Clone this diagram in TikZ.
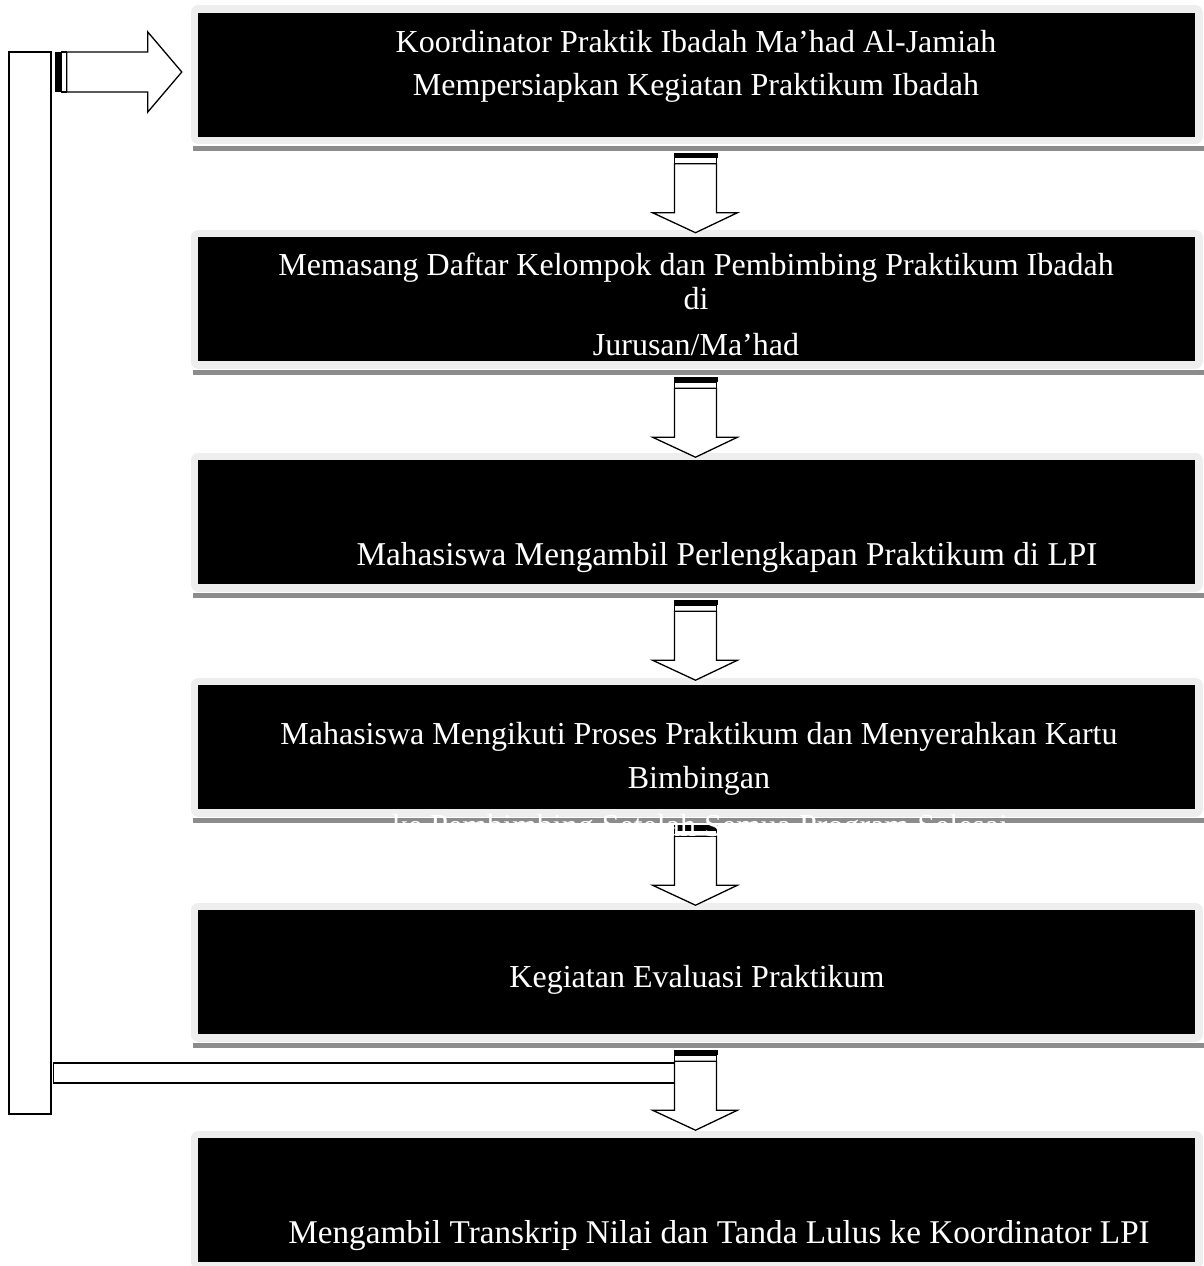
\documentclass[tikz,border=0pt]{standalone}
\usepackage{fontspec}
\setmainfont{Liberation Serif}
\usetikzlibrary{calc}

\definecolor{framegray}{HTML}{EEEEEE}
\definecolor{shadegray}{HTML}{8C8C8C}

\tikzset{
  stepbox/.style={fill=black, minimum width=997pt, minimum height=124pt, inner sep=0pt,
    preaction={draw=framegray, line width=15pt, line join=round}},
  steptext/.style={text=white, align=center, inner sep=0pt, font=\fontsize{32}{43}\selectfont},
  hollow/.style={draw=black, fill=white, line width=1.3pt},
  downarr/.pic={
    \fill[black] (-22,0) rectangle (22,5);
    \draw[hollow] (-21,5) rectangle (21,11);
    \draw[hollow] (-21,11) -- (-21,60) -- (-43,60) -- (0,80) -- (42,60) -- (21,60) -- (21,11) -- cycle;
  },
  rightarr/.pic={
    \fill[black] (-127,-20) rectangle (-121,20);
    \draw[hollow] (-120,-20) rectangle (-115,20);
    \draw[hollow] (-115,-20) -- (-34,-20) -- (-34,-40) -- (0,0) -- (-34,40) -- (-34,20) -- (-115,20) -- cycle;
  }
}

\begin{document}
\begin{tikzpicture}[x=1pt, y=-1pt]
        \useasboundingbox (0,0) rectangle (1204,1266);
        % boxes
        \node[stepbox] (b1) at (696.5,74.5) {};
        \node[stepbox] (b2) at (696.5,299) {};
        \node[stepbox] (b3) at (696.5,522) {};
        \node[stepbox] (b4) at (696.5,747) {};
        \node[stepbox] (b5) at (696.5,972) {};
        \node[stepbox] (b6) at (696.5,1200) {};
        \foreach \b in {b1,b2,b3,b4,b5,b6}
          \fill[shadegray] ($(\b.south west)+(-5,9)$) rectangle ($(\b.south east)+(9,14)$);
        % loop back
        \node[hollow, minimum width=42pt, minimum height=1062pt, inner sep=0pt] (lbar) at (30,583) {};
        \draw[hollow] ($(lbar.east |- 0,1063)+(2,0)$) rectangle (676,1083);
        \pic at ($(b1.west)+(-16,-2.5)$) {rightarr};
        % arrows
        \foreach \a in {b1,b2,b3,b4,b5}
          \pic at ($(\a.south)+(-1,16)$) {downarr};
        % texts
        \node[steptext] (t1) at (696,66.5) {Koordinator Praktik Ibadah Ma’had Al-Jamiah\\Mempersiapkan Kegiatan Praktikum Ibadah};
        \node[steptext, font=\fontsize{32}{34}\selectfont] (t2) at (696,304) {Memasang Daftar Kelompok dan Pembimbing Praktikum Ibadah\\di\\[12pt]Jurusan/Ma’had};
        \node[steptext, font=\fontsize{33.3}{43}\selectfont] (t3) at (727,558) {Mahasiswa Mengambil Perlengkapan Praktikum di LPI};
        \node[steptext, font=\fontsize{32}{44}\selectfont] (t4) at (699,759) {Mahasiswa Mengikuti Proses Praktikum dan Menyerahkan Kartu\\Bimbingan};
        \node[steptext] (t4b) at (700,829) {ke Pembimbing Setelah Semua Program Selesai};
        \node[steptext] (t5) at (697,980) {Kegiatan Evaluasi Praktikum};
        \node[steptext, font=\fontsize{33.2}{43}\selectfont] (t6) at (719,1236) {Mengambil Transkrip Nilai dan Tanda Lulus ke Koordinator LPI};
      \end{tikzpicture}
\end{document}
